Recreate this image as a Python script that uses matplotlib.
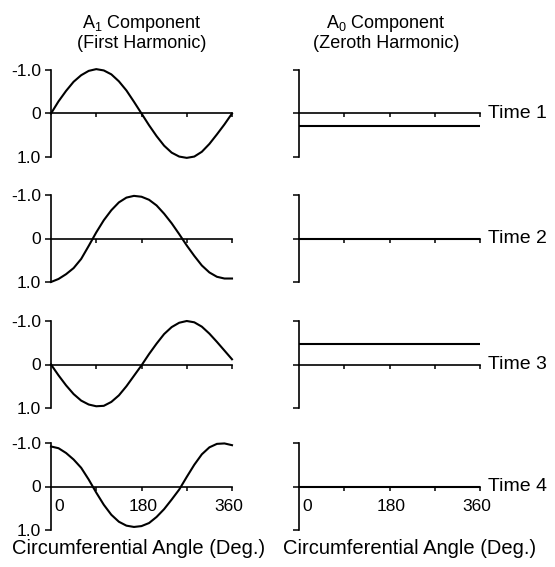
import matplotlib
matplotlib.use('Agg')

from matplotlib import pyplot as plt
import matplotlib.transforms as mtransforms

import numpy as np

plt.rcParams['font.family'] = ['Liberation Sans', 'DejaVu Sans']
plt.rcParams['mathtext.default'] = 'regular'

# values, every 15 degrees

angles = np.arange(0, 361, 15)

a1_time1 = [0.0, -0.28, -0.52, -0.73, -0.88, -0.98, -1.02, -0.99, -0.9, -0.74, -0.53, -0.27, 0.0,
            0.27, 0.52, 0.74, 0.9, 0.99, 1.02, 0.99, 0.88, 0.7, 0.48, 0.25, 0.0]
a1_time2 = [1.0, 0.93, 0.82, 0.68, 0.47, 0.17, -0.14, -0.42, -0.65, -0.83, -0.94, -0.98, -0.96,
            -0.89, -0.76, -0.57, -0.35, -0.1, 0.16, 0.4, 0.62, 0.78, 0.88, 0.92, 0.92]
a1_time3 = [0.0, 0.25, 0.48, 0.68, 0.83, 0.92, 0.96, 0.95, 0.86, 0.71, 0.5, 0.26, 0.02,
            -0.24, -0.48, -0.7, -0.86, -0.96, -1.0, -0.97, -0.87, -0.71, -0.52, -0.32, -0.12]
a1_time4 = [-0.92, -0.88, -0.77, -0.62, -0.43, -0.16, 0.14, 0.42, 0.65, 0.81, 0.9, 0.93, 0.91,
            0.84, 0.7, 0.52, 0.3, 0.07, -0.22, -0.5, -0.74, -0.9, -0.98, -0.99, -0.95]

a0_values = [0.28, 0.0, -0.48, 0.0]

time_labels = ['Time 1', 'Time 2', 'Time 3', 'Time 4']

angle_ticks = [90, 180, 270, 360]
angle_labels = [0, 180, 360]
y_ticks = [-1.0, 0.0, 1.0]
y_tick_labels = ['-1.0', '0', '1.0']

a1_rows = [a1_time1, a1_time2, a1_time3, a1_time4]

W, H = 555, 567
fig = plt.figure(figsize=(W / 100, H / 100), dpi=100)

row_tops = [70, 195, 321, 443]
ax_h = 87
ax_w = 181
col_lefts = [51, 299]


def make_axes(left, top):
    return fig.add_axes([left / W, 1 - (top + ax_h) / H, ax_w / W, ax_h / H])


def style(ax, show_labels):
    ax.set_xlim(0, 360)
    ax.set_ylim(1.0, -1.0)
    ax.patch.set_visible(False)
    for s in ['top', 'right']:
        ax.spines[s].set_visible(False)
    ax.spines['bottom'].set_position(('data', 0))
    for s in ['left', 'bottom']:
        ax.spines[s].set_linewidth(1.2)
    ax.set_xticks(angle_ticks)
    ax.tick_params(axis='x', direction='out', length=3, width=1.1, labelbottom=False)
    ax.set_yticks(y_ticks)
    if show_labels:
        ax.set_yticklabels(y_tick_labels)
    else:
        ax.set_yticklabels([])
    ax.tick_params(axis='y', direction='out', length=4, width=1.1, pad=3, labelsize=12.5)


label_shift = {0: (3, 'left'), 180: (2, 'center'), 360: (-3, 'center')}

for i in range(4):

    ax1 = make_axes(col_lefts[0], row_tops[i])
    style(ax1, True)
    ax1.plot(angles, a1_rows[i], color='black', lw=1.5, clip_on=False)

    ax0 = make_axes(col_lefts[1], row_tops[i])
    style(ax0, False)
    ax0.hlines(a0_values[i], 0, 360, color='black', lw=1.5, clip_on=False)

    trans = mtransforms.blended_transform_factory(ax0.transAxes, ax0.transData)
    ax0.text(1.045, 0, time_labels[i], transform=trans, ha='left', va='center', fontsize=14)

    if i == 3:
        for ax in [ax1, ax0]:
            for a in angle_labels:
                dx, ha = label_shift[a]
                tr = mtransforms.offset_copy(ax.transData, fig=fig, x=dx, y=0, units='dots')
                ax.text(a, 0.46, str(a), transform=tr, ha=ha, va='center', fontsize=12.5)

# column titles and axis names

fig.text(142 / W, 1 - 23 / H, 'A$_1$ Component', ha='center', va='center', fontsize=13)
fig.text(142 / W, 1 - 43 / H, '(First Harmonic)', ha='center', va='center', fontsize=13)
fig.text(386 / W, 1 - 23 / H, 'A$_0$ Component', ha='center', va='center', fontsize=13)
fig.text(386 / W, 1 - 43 / H, '(Zeroth Harmonic)', ha='center', va='center', fontsize=13)

fig.text(139 / W, 1 - 548 / H, 'Circumferential Angle (Deg.)', ha='center', va='center', fontsize=14.5)
fig.text(410 / W, 1 - 548 / H, 'Circumferential Angle (Deg.)', ha='center', va='center', fontsize=14.5)

fig.savefig('out.png', dpi=100)
